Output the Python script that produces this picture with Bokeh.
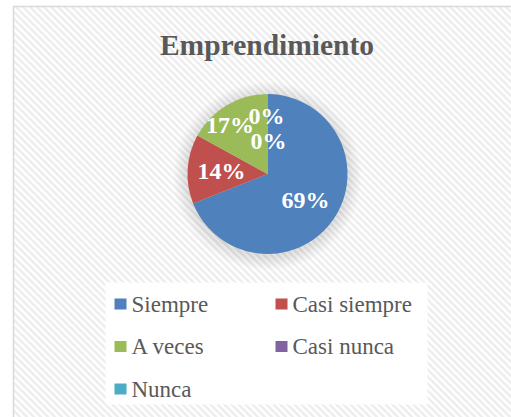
import math
from bokeh.plotting import figure
from bokeh.models import Range1d
from bokeh.core.properties import value
from bokeh.embed import file_html
from bokeh.resources import INLINE

# ---- data ----
title = "Emprendimiento"
categories = ["Siempre", "Casi siempre", "A veces", "Casi nunca", "Nunca"]
values = [69, 14, 17, 0, 0]
colors = ["#4F81BD", "#C0504D", "#9BBB59", "#8064A2", "#4BACC6"]
# label nudges (pixels) mimicking the reference's overlap avoidance
label_dx = [0, 0, -14, -1, 1]
label_dy = [0, 0, -9, -12, 13]

W, H = 511, 417
FONT = "Liberation Serif"

def Y(py):
    return H - py

p = figure(width=W, height=H, output_backend="svg", toolbar_location=None,
           x_range=Range1d(0, W), y_range=Range1d(0, H),
           min_border=0, outline_line_color=None)
p.axis.visible = False
p.grid.visible = False
p.background_fill_color = "white"
p.border_fill_color = "white"

# chart-area background: faint diagonal stripes (decoration)
L, T, Rr, B = 13, 6, 511, 417
x0s, y0s, x1s, y1s = [], [], [], []
step = 7
x0 = L - (B - T)
while x0 < Rr:
    xs = max(L, x0)
    xe = min(Rr, x0 + (B - T))
    if xs < xe:
        x0s.append(xs); y0s.append(Y(T + xs - x0))
        x1s.append(xe); y1s.append(Y(T + xe - x0))
    x0 += step
p.segment(x0=x0s, y0=y0s, x1=x1s, y1=y1s, line_color="#eeeeee", line_width=2.5)
p.quad(left=[L], right=[540], top=[Y(T)], bottom=[Y(450)],
       fill_color=None, line_color="#d9d9d9", line_width=1.5)

cx, cy, R = 267, Y(173.5), 80

# soft shadow
for k in range(14, 0, -1):
    p.circle(x=[cx], y=[cy - 2], radius=R + k, fill_color="#808080",
             fill_alpha=0.018, line_color=None)

total = sum(values)
starts, ends, wcol, lx, ly, ltxt = [], [], [], [], [], []
cum = 0
for i, v in enumerate(values):
    a0 = cum / total
    cum += v
    a1 = cum / total
    mid = (a0 + a1) / 2
    ang = math.pi / 2 - 2 * math.pi * mid
    rl = 0.575 * R
    lx.append(cx + rl * math.cos(ang) + label_dx[i])
    ly.append(cy + rl * math.sin(ang) - label_dy[i])
    ltxt.append(f"{round(100 * v / total)}%")
    if v > 0:
        starts.append(math.pi / 2 - 2 * math.pi * a1)
        ends.append(math.pi / 2 - 2 * math.pi * a0)
        wcol.append(colors[i])

p.wedge(x=cx, y=cy, radius=R, start_angle=starts, end_angle=ends,
        fill_color=wcol, line_color=None)

p.text(x=lx, y=ly, text=ltxt, text_color="white", text_font=value(FONT),
       text_font_style="bold", text_font_size="24px",
       text_align="center", text_baseline="middle")

# title
p.text(x=[266.5], y=[Y(44)], text=[title], text_color="#595959",
       text_font=value(FONT), text_font_style="bold", text_font_size="29.5px",
       text_align="center", text_baseline="middle")

# legend box
p.quad(left=[105], right=[427], top=[Y(282)], bottom=[Y(404)],
       fill_color="white", fill_alpha=0.92, line_color=None)

col_x = [114, 275]
row_y = [303.5, 346, 388.5]
sx, sy, tx, ty = [], [], [], []
for i, c in enumerate(categories):
    r, cc = divmod(i, 2)
    sx.append(col_x[cc] + 6)
    sy.append(Y(row_y[r]))
    tx.append(col_x[cc] + 17)
    ty.append(Y(row_y[r]))
p.rect(x=sx, y=sy, width=12, height=11, fill_color=colors, line_color=None)
p.text(x=tx, y=ty, text=categories, text_color="#595959",
       text_font=value(FONT), text_font_size="23px",
       text_align="left", text_baseline="middle")

open("out.html", "w").write(file_html(p, INLINE))
